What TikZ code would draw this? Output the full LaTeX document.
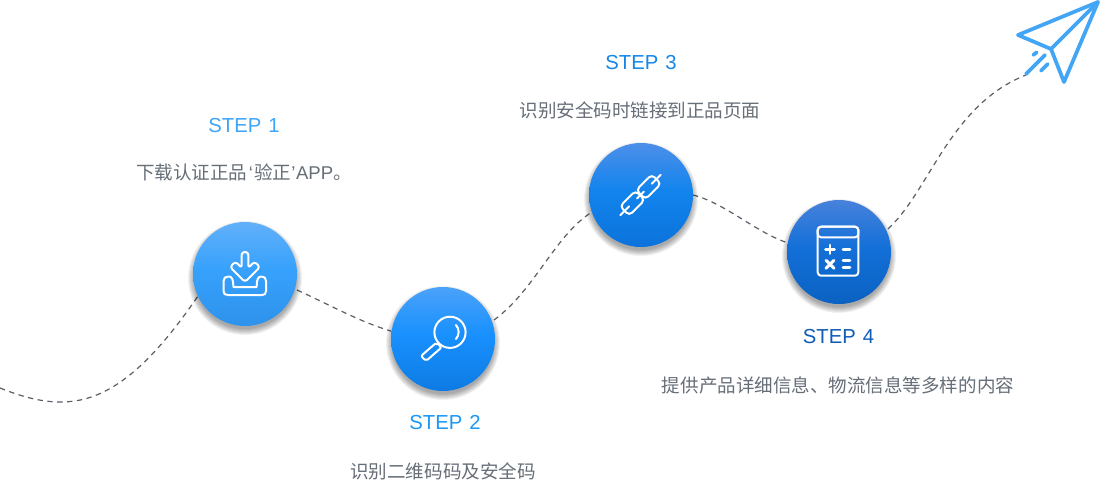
\documentclass[tikz,border=0pt]{standalone}
\usepackage{fontspec}
\setmainfont{Liberation Sans}
\newfontfamily\cjk{Noto Sans CJK SC}
\definecolor{bodytext}{HTML}{666E78}
\definecolor{routeline}{HTML}{5A6068}
\definecolor{stepA}{HTML}{3FA5F8}
\definecolor{stepB}{HTML}{1B97F5}
\definecolor{stepC}{HTML}{1487EA}
\definecolor{stepD}{HTML}{0F5DB8}
\definecolor{plane}{HTML}{42A5F5}
\definecolor{discAtop}{HTML}{62B0FA}
\definecolor{discAmid}{HTML}{36A1FC}
\definecolor{discAbot}{HTML}{2E92EB}
\definecolor{discBtop}{HTML}{4BA2F9}
\definecolor{discBmid}{HTML}{1890FE}
\definecolor{discBbot}{HTML}{0E7BE3}
\definecolor{discCtop}{HTML}{4C8FE9}
\definecolor{discCmid}{HTML}{1284ED}
\definecolor{discCbot}{HTML}{0C72DB}
\definecolor{discDtop}{HTML}{4782DB}
\definecolor{discDmid}{HTML}{1370D8}
\definecolor{discDbot}{HTML}{0A62C2}
% Vertical disc fills: a quick fall-off from the light top, then a slow darkening
\newcommand{\discshading}[1]{%
  \pgfdeclareverticalshading{shade#1}{100bp}{%
    color(0bp)=(disc#1bot); color(25bp)=(disc#1bot); color(52bp)=(disc#1mid);
    color(75bp)=(disc#1top); color(100bp)=(disc#1top)}%
}
\discshading{A}
\discshading{B}
\discshading{C}
\discshading{D}
\tikzset{
  route/.style={routeline, line width=0.9pt, dash pattern=on 4pt off 3.4pt},
  heading/.style={font=\fontsize{15.2pt}{18pt}\selectfont, inner sep=0pt, anchor=center},
  caption/.style={font=\cjk\fontsize{13.9pt}{17pt}\selectfont, text=bodytext, inner sep=0pt, anchor=center},
  disc/.style={circle, minimum size=78pt, inner sep=0pt},
  glyph/.style={white, line width=1.5pt, line join=round, line cap=round},
  thickglyph/.style={glyph, line width=2.2pt},
  planeline/.style={plane, line width=2.8pt, line join=round, line cap=round},
}
% Soft drop shadow under a step disc, built from stacked translucent rings
\newcommand{\discshadow}[1]{%
  \foreach \r in {51,52,...,57} {
    \fill[black, opacity=.055] (#1)++(0,4) circle[radius=\r];
  }%
}
\begin{document}
\begin{tikzpicture}[x=0.75pt,y=-0.75pt]
\useasboundingbox (0,0) rectangle (1100,479);
\fill[white] (0,0) rectangle (1100,479);

% Anchor points of the flight route
\coordinate (start) at (0,388);
\coordinate (a1in) at (198,296);
\coordinate (a1out) at (297,290);
\coordinate (a2in) at (391,331);
\coordinate (a2out) at (494,320);
\coordinate (a3in) at (592,212);
\coordinate (a3out) at (693,195);
\coordinate (a4in) at (788,243);
\coordinate (a4out) at (888,229);
\coordinate (tail) at (1026,75);

% Route segments between the discs
\draw[route] (start) .. controls (70,416) and (120,410) .. (a1in);
\draw[route] (a1out) .. controls (330,305) and (360,322) .. (a2in);
\draw[route] (a2out) .. controls (535,290) and (555,235) .. (a3in);
\draw[route] (a3out) .. controls (725,203) and (755,232) .. (a4in);
\draw[route] (a4out) .. controls (930,190) and (950,105) .. (tail);

% Step discs
\discshadow{245,274}
\discshadow{443,339}
\discshadow{641,195}
\discshadow{839,252}
\node[disc, shading=shadeA] (s1) at (245,274) {};
\node[disc, shading=shadeB] (s2) at (443,339) {};
\node[disc, shading=shadeC] (s3) at (641,195) {};
\node[disc, shading=shadeD] (s4) at (839,252) {};

% Download tray glyph
\draw[glyph, rounded corners=2.2pt] (241.7,252) -- (248.3,252) -- (248.3,268) -- (254.5,261.5)
  -- (260,267) -- (245,282) -- (230,267) -- (235.5,261.5) -- (241.7,268) -- cycle;
\draw[glyph] (228.5,276.5) .. controls (232,276.5) and (233.3,279) .. (233.3,287)
  -- (256.7,287) .. controls (256.7,279) and (258,276.5) .. (261.5,276.5)
  .. controls (264.5,276.5) and (266,278) .. (266,281)
  -- (266,291) .. controls (266,294) and (264.5,295) .. (262,295)
  -- (228,295) .. controls (225,295) and (223.5,294) .. (223.5,291)
  -- (223.5,281) .. controls (223.5,278) and (225.5,276.5) .. (228.5,276.5) -- cycle;

% Magnifier glyph
\draw[glyph] (450,332.3) circle[radius=15.6];
\draw[glyph] (456,325) .. controls (459.5,329) and (459.5,335) .. (456,339);
\draw[glyph, rounded corners=1.5pt] (436.5,342.5) -- (441.5,347.5) -- (426,361) -- (421,356) -- cycle;

% Chain glyph
\begin{scope}[shift={(640.5,195)}, rotate=45]
  \draw[glyph] (-28.5,0) -- (-16,0) (-5,0) -- (5,0) (16,0) -- (28.5,0);
  \draw[glyph, rounded corners=3pt] (-22.5,-6.5) rectangle (-0.5,6.5);
  \draw[glyph, rounded corners=3pt] (0.5,-6.5) rectangle (22.5,6.5);
\end{scope}

% Calculator glyph
\draw[glyph, rounded corners=2.5pt] (817.7,226.7) rectangle (858.3,275.7);
\draw[glyph, rounded corners=2.5pt] (817.7,226.7) rectangle (858.3,237.3);
\draw[thickglyph] (825.5,249.3) -- (834.5,249.3) (830,245) -- (830,253.6);
\draw[thickglyph] (843,249.3) -- (850,249.3);
\draw[thickglyph] (826,260.3) -- (834,268.3) (834,260.3) -- (826,268.3);
\draw[thickglyph] (843,260.3) -- (850,260.3) (843,267.3) -- (850,267.3);

% Paper plane
\coordinate (tipNE) at (1098,2);
\coordinate (wingW) at (1018,35);
\coordinate (fold) at (1051,49);
\coordinate (keel) at (1064,82);
\draw[planeline] (tipNE) -- (wingW) -- (fold) -- (keel) -- cycle;
\draw[planeline] (fold) -- (tipNE);
\draw[planeline] (1045,55) -- (1026,74);
\draw[planeline] (1036.7,52.3) -- (1033.3,55);
\draw[planeline] (1047.7,64) -- (1041,70.7);

% Step headings and captions
\node[heading, text=stepA] (t1) at (244,125.5) {STEP\hspace{1pt} 1};
\node[caption] (c1) at (244,172) {下载认证正品\hspace{1pt}{\rmfamily ‘}\hspace{1pt}验正{\rmfamily ’}\hspace{0.5pt}{\rmfamily APP}。};
\node[heading, text=stepB] (t2) at (445,422.5) {STEP\hspace{1pt} 2};
\node[caption] (c2) at (443,471) {识别二维码码及安全码};
\node[heading, text=stepC] (t3) at (641,62.5) {STEP\hspace{1pt} 3};
\node[caption] (c3) at (640,110) {识别安全码时链接到正品页面};
\node[heading, text=stepD] (t4) at (838.5,336.5) {STEP\hspace{1pt} 4};
\node[caption] (c4) at (838,385) {提供产品详细信息、物流信息等多样的内容};
\end{tikzpicture}
\end{document}
